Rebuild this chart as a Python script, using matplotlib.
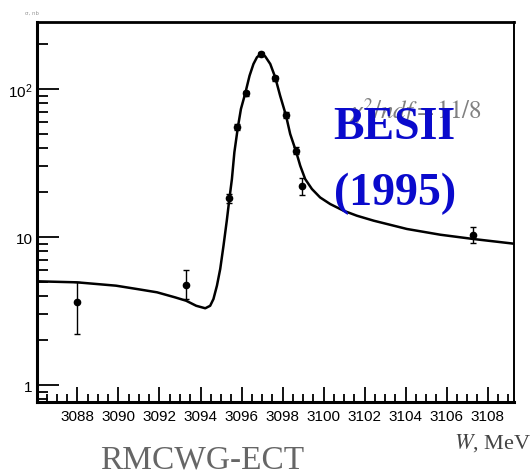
import matplotlib
matplotlib.use("Agg")
import matplotlib.pyplot as plt
from matplotlib.ticker import MultipleLocator, LogLocator, NullFormatter, FixedLocator

w_data = [3088.0, 3093.3, 3095.4, 3095.8, 3096.2, 3096.94, 3097.64, 3098.16, 3098.66, 3098.95, 3107.3]
sig_data = [3.64, 4.74, 18.3, 55.1, 93.5, 172.0, 118.6, 66.7, 38.3, 22.2, 10.3]
err_lo = [1.43, 0.93, 1.2, 2.5, 3.5, 6.0, 4.5, 3.0, 2.0, 3.0, 1.24]
err_hi = [1.34, 1.24, 1.2, 2.5, 3.5, 6.0, 4.5, 3.0, 2.0, 2.7, 1.3]

# fit curve
w_fit = [3086.03, 3087.98, 3089.88, 3090.91, 3091.88, 3092.76, 3093.30, 3093.79,
         3094.23, 3094.47, 3094.63, 3094.80, 3094.96, 3095.12, 3095.28, 3095.41,
         3095.53, 3095.65, 3095.82, 3095.97, 3096.18, 3096.39, 3096.58, 3096.75,
         3096.94, 3097.15, 3097.40, 3097.64, 3097.88, 3098.16, 3098.37, 3098.66,
         3098.86, 3099.10, 3099.43, 3099.83, 3100.32, 3100.97, 3101.62, 3102.44,
         3104.06, 3105.69, 3107.31, 3109.10, 3109.30]
sig_fit = [5.02, 4.94, 4.69, 4.45, 4.23, 3.91, 3.71, 3.43,
           3.30, 3.43, 3.81, 4.69, 6.08, 8.73, 12.89, 18.26,
           24.65, 37.35, 55.10, 73.3, 93.5, 123.0, 147.5, 163.8,
           172.4, 166.3, 147.5, 120.0, 90.1, 66.7, 49.7, 37.7,
           30.3, 24.65, 21.1, 18.5, 16.7, 15.06, 13.93, 12.89,
           11.33, 10.36, 9.69, 9.07, 9.0]

x_ticks = [3088, 3090, 3092, 3094, 3096, 3098, 3100, 3102, 3104, 3106, 3108]

fig = plt.figure(figsize=(5.31, 4.77), dpi=100)
ax = fig.add_axes([0.0697, 0.155, 0.8983, 0.797])

ax.plot(w_fit, sig_fit, color="black", lw=1.8, solid_joinstyle="round", zorder=2)
ax.errorbar(w_data, sig_data, yerr=[err_lo, err_hi], fmt="o", color="black",
            ms=4.5, elinewidth=1.0, capsize=2.5, capthick=1.0, zorder=3)

ax.set_yscale("log")
ax.set_xlim(3086.03, 3109.28)
ax.set_ylim(0.767, 284)

ax.xaxis.set_major_locator(FixedLocator(x_ticks))
ax.xaxis.set_minor_locator(MultipleLocator(0.5))
ax.set_xticklabels([str(t) for t in x_ticks])
ax.yaxis.set_major_locator(FixedLocator([1, 10, 100]))
ax.set_yticklabels(["1", "10", r"$\mathregular{10^2}$"])
ax.yaxis.set_minor_locator(LogLocator(base=10, subs=range(2, 10)))
ax.yaxis.set_minor_formatter(NullFormatter())

ax.tick_params(axis="both", which="both", direction="in", top=False, right=False,
               width=1.3, labelsize=11)
ax.tick_params(axis="y", which="major", length=16, pad=3)
ax.tick_params(axis="y", which="minor", length=8)
ax.tick_params(axis="x", which="major", length=11, pad=5)
ax.tick_params(axis="x", which="minor", length=6)
for lab in ax.get_xticklabels() + ax.get_yticklabels():
    lab.set_family("Liberation Sans")

for side, lw in [("left", 2.2), ("bottom", 2.2), ("top", 2.0), ("right", 1.4)]:
    ax.spines[side].set_linewidth(lw)

ax.text(0.652, 0.748, r"$\chi^2/ndf = 11/8$", transform=ax.transAxes,
        fontsize=18, color="#808080", math_fontfamily="stix", zorder=1)
ax.text(0.622, 0.695, "BESII", transform=ax.transAxes, fontsize=33,
        color="#0a0acc", fontweight="bold", family="Liberation Serif")
ax.text(0.622, 0.52, "(1995)", transform=ax.transAxes, fontsize=33,
        color="#0a0acc", fontweight="bold", family="Liberation Serif")

fig.text(0.855, 0.06, r"$W$, MeV", fontsize=16, color="#444444",
         family="Liberation Serif", math_fontfamily="stix")
fig.text(0.188, 0.004, "RMCWG-ECT", fontsize=24, color="#666666",
         family="Liberation Serif", va="bottom")
fig.text(0.047, 0.968, "σ, nb", fontsize=4, color="#999999")

fig.savefig("out.png", dpi=100)
